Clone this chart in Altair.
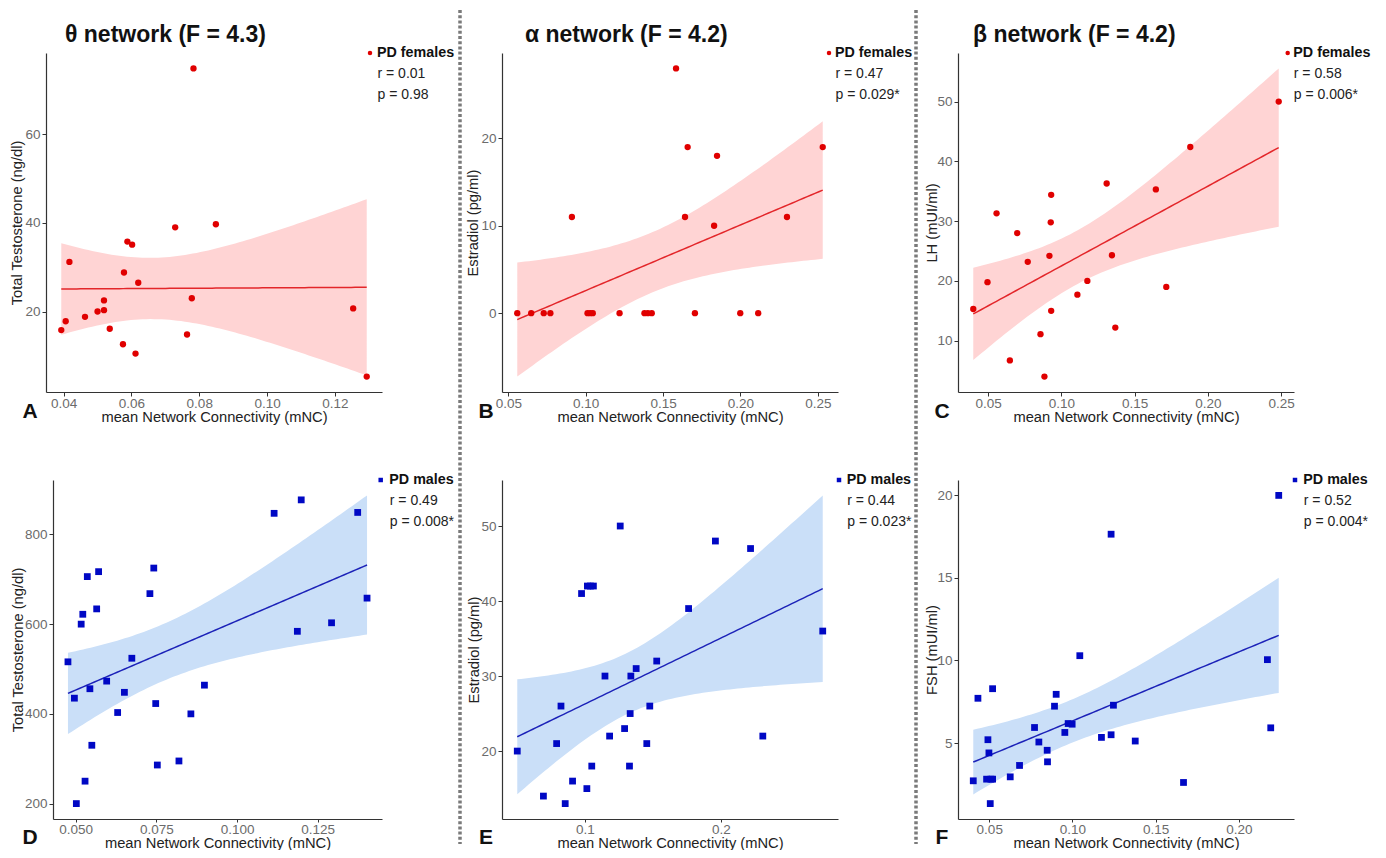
import numpy as np
import pandas as pd
import altair as alt

FONT = "Liberation Sans"

# ---------------- data ----------------
# A: theta network, PD females, Total Testosterone (ng/dl)
a_x = [0.0393, 0.0406, 0.0417, 0.0463, 0.0500, 0.0519, 0.0519, 0.0536, 0.0575, 0.0578,
       0.0588, 0.0602, 0.0612, 0.0620, 0.0729, 0.0764, 0.0778, 0.0783, 0.0849, 0.1254, 0.1294]
a_y = [15.8, 17.8, 31.2, 18.8, 20.0, 22.5, 20.3, 16.1, 12.6, 28.8,
       35.8, 35.1, 10.5, 26.5, 39.0, 14.8, 23.0, 74.9, 39.7, 20.7, 5.3]

# B: alpha network, PD females, Estradiol (pg/ml)
b_x = [0.0558, 0.0648, 0.0729, 0.0772, 0.0911, 0.1012, 0.1029, 0.1046, 0.1219, 0.1380, 0.1402,
       0.1427, 0.1584, 0.1642, 0.1659, 0.1706, 0.1830, 0.1849, 0.1999, 0.2115, 0.2301, 0.2532]
b_y = [0, 0, 0, 0, 11, 0, 0, 0, 0, 0, 0,
       0, 28, 11, 19, 0, 10, 18, 0, 0, 11, 19]

# C: beta network, PD females, LH (mUI/ml)
c_x = [0.0398, 0.0495, 0.0557, 0.0648, 0.0698, 0.0770, 0.0857, 0.0884, 0.0918, 0.0927, 0.0930,
       0.0930, 0.1109, 0.1177, 0.1309, 0.1345, 0.1368, 0.1645, 0.1716, 0.1880, 0.2484]
c_y = [15.3, 19.8, 31.3, 6.7, 28.0, 23.2, 11.1, 4.0, 24.2, 29.8, 34.4,
       15.0, 17.7, 20.0, 36.3, 24.3, 12.2, 35.3, 19.0, 42.4, 50.0]

# D: theta network, PD males, Total Testosterone (ng/dl)
d_x = [0.0476, 0.0496, 0.0502, 0.0517, 0.0522, 0.0529, 0.0536, 0.0544, 0.0550, 0.0565,
       0.0571, 0.0596, 0.0630, 0.0651, 0.0674, 0.0730, 0.0742, 0.0748, 0.0753, 0.0820,
       0.0857, 0.0899, 0.1115, 0.1187, 0.1199, 0.1293, 0.1374, 0.1403]
d_y = [516, 435, 200, 600, 622, 250, 706, 456, 330, 634,
       717, 473, 403, 448, 524, 668, 725, 423, 286, 295,
       400, 464, 847, 584, 877, 603, 849, 658]

# E: alpha network, PD males, Estradiol (pg/ml)
e_x = [0.0504, 0.0696, 0.0793, 0.0825, 0.0856, 0.0910, 0.0976, 0.1015, 0.1019, 0.1041,
       0.1063, 0.1051, 0.1148, 0.1182, 0.1260, 0.1292, 0.1333, 0.1328, 0.1338, 0.1377,
       0.1455, 0.1477, 0.1528, 0.1762, 0.1959, 0.2217, 0.2307, 0.2747]
e_y = [20, 14, 21, 26, 13, 16, 41, 15, 42, 42,
       42, 18, 30, 22, 50, 23, 25, 18, 30, 31,
       21, 26, 32, 39, 48, 47, 22, 36]

# F: beta network, PD males, FSH (mUI/ml)
f_x = [0.0404, 0.0432, 0.0484, 0.0492, 0.0498, 0.0506, 0.0510, 0.0520, 0.0520, 0.0626,
       0.0682, 0.0772, 0.0798, 0.0848, 0.0850, 0.0892, 0.0902, 0.0954, 0.0974, 0.0998,
       0.1044, 0.1174, 0.1232, 0.1232, 0.1246, 0.1377, 0.1667, 0.2171, 0.2191, 0.2239]
f_y = [2.71, 7.71, 2.81, 5.20, 4.40, 1.33, 2.81, 8.29, 2.81, 2.95,
       3.64, 5.94, 5.06, 4.56, 3.86, 7.23, 7.95, 5.64, 6.18, 6.14,
       10.29, 5.34, 5.50, 17.65, 7.29, 5.12, 2.61, 10.05, 5.92, 20.0]

titles = ["θ network (F = 4.3)", "α network (F = 4.2)", "β network (F = 4.2)"]
letters = ["A", "B", "C", "D", "E", "F"]
y_titles = ["Total Testosterone (ng/dl)", "Estradiol (pg/ml)", "LH (mUI/ml)",
            "Total Testosterone (ng/dl)", "Estradiol (pg/ml)", "FSH (mUI/ml)"]
groups = ["PD females"] * 3 + ["PD males"] * 3
r_text = ["r = 0.01", "r = 0.47", "r = 0.58", "r = 0.49", "r = 0.44", "r = 0.52"]
p_text = ["p = 0.98", "p = 0.029*", "p = 0.006*", "p = 0.008*", "p = 0.023*", "p = 0.004*"]
x_ticks = [[0.04, 0.06, 0.08, 0.10, 0.12], [0.05, 0.10, 0.15, 0.20, 0.25],
           [0.05, 0.10, 0.15, 0.20, 0.25], [0.050, 0.075, 0.100, 0.125],
           [0.1, 0.2], [0.05, 0.10, 0.15, 0.20]]
x_formats = [".2f", ".2f", ".2f", ".3f", ".1f", ".2f"]
y_ticks = [[20, 40, 60], [0, 10, 20], [10, 20, 30, 40, 50],
           [200, 400, 600, 800], [20, 30, 40, 50], [5, 10, 15, 20]]
xs_all = [a_x, b_x, c_x, d_x, e_x, f_x]
ys_all = [a_y, b_y, c_y, d_y, e_y, f_y]

# ---------------- layout / style ----------------
W, H = 336, 339
RED, RED_BAND, RED_LINE = "#E00000", "#FFD4D4", "#E3262A"
BLUE, BLUE_BAND, BLUE_LINE = "#0008C4", "#CADFF8", "#1C22B8"
title_dx = [19, 23, 15]
ytitle_x = [-29, -29, -26, -35, -28, -26]
left_inset = [0, 0, 0, 7, 0, 0]          # panel D's plot starts a little to the right
marker_dx = [-12, -9, -6.3, -1.3, 1, 1]
label_dx = [-5, -3, -0.7, 7.3, 8.7, 9.3]


def t975(df):
    z = 1.959963985
    return (z + (z ** 3 + z) / (4 * df)
            + (5 * z ** 5 + 16 * z ** 3 + 3 * z) / (96 * df ** 2)
            + (3 * z ** 7 + 19 * z ** 5 + 17 * z ** 3 - 15 * z) / (384 * df ** 3))


def smooth(xs, ys, n=80):
    x = np.asarray(xs, float)
    y = np.asarray(ys, float)
    k = len(x)
    xm, ym = x.mean(), y.mean()
    sxx = ((x - xm) ** 2).sum()
    b = ((x - xm) * (y - ym)).sum() / sxx
    a = ym - b * xm
    s = np.sqrt(((y - (a + b * x)) ** 2).sum() / (k - 2))
    g = np.linspace(x.min(), x.max(), n)
    fit = a + b * g
    se = s * np.sqrt(1.0 / k + (g - xm) ** 2 / sxx)
    t = t975(k - 2)
    return pd.DataFrame({"x": g, "fit": fit, "lo": fit - t * se, "hi": fit + t * se})


def txt(s, px, py, **kw):
    return alt.Chart(pd.DataFrame({"t": [s]})).mark_text(font=FONT, **kw).encode(
        text="t:N", x=alt.value(px), y=alt.value(py))


def panel(i):
    female = i < 3
    bottom = i >= 3
    xs, ys = xs_all[i], ys_all[i]
    pts = pd.DataFrame({"x": xs, "y": ys})
    sm = smooth(xs, ys)
    x0, x1 = min(xs), max(xs)
    xp = 0.05 * (x1 - x0)
    y0 = min(min(ys), sm["lo"].min())
    y1 = max(max(ys), sm["hi"].max())
    yp = 0.05 * (y1 - y0)
    inset = left_inset[i]
    if inset:
        xscale = alt.Scale(domain=[x0 - xp, x1 + xp], nice=False, zero=False,
                           range=[inset, W])
    else:
        xscale = alt.Scale(domain=[x0 - xp, x1 + xp], nice=False, zero=False)
    yscale = alt.Scale(domain=[y0 - yp, y1 + yp], nice=False, zero=False)

    xaxis = alt.Axis(values=x_ticks[i], format=x_formats[i],
                     title="mean Network Connectivity (mNC)",
                     titleY=24 if bottom else 25, titleBaseline="middle",
                     tickSize=3 if bottom else 4, labelPadding=0)
    yargs = dict(values=y_ticks[i], format="d", title=y_titles[i],
                 titleX=ytitle_x[i], titleY=H / 2, titleAngle=270,
                 titleBaseline="middle", titleAlign="center",
                 tickSize=4, labelPadding=2)
    if inset:
        yargs["offset"] = -inset
    yaxis = alt.Axis(**yargs)

    band_c = RED_BAND if female else BLUE_BAND
    line_c = RED_LINE if female else BLUE_LINE
    pt_c = RED if female else BLUE
    shape = "circle" if female else "square"

    band = alt.Chart(sm).mark_area(color=band_c, opacity=1).encode(
        x=alt.X("x:Q", scale=xscale, axis=xaxis),
        y=alt.Y("lo:Q", scale=yscale, axis=yaxis),
        y2="hi:Q")
    line = alt.Chart(sm).mark_line(color=line_c, strokeWidth=1.5).encode(
        x="x:Q", y="fit:Q")
    points = alt.Chart(pts).mark_point(shape=shape, filled=True, opacity=1,
                                       size=40 if female else 46, color=pt_c).encode(
        x="x:Q", y="y:Q")

    marker = alt.Chart(pd.DataFrame({"g": [groups[i]]})).mark_point(
        shape=shape, filled=True, opacity=1, size=20, color=pt_c).encode(
        x=alt.value(W + marker_dx[i]), y=alt.value(0))
    lx = W + label_dx[i]
    leg1 = txt(groups[i], lx, 0, fontSize=14.3, fontWeight="bold", align="left",
               baseline="middle", color="#111111")
    leg2 = txt(r_text[i], lx + 0.5, 21, fontSize=14, align="left",
               baseline="middle", color="#222222")
    leg3 = txt(p_text[i], lx + 0.5, 41.5 if bottom else 42, fontSize=14, align="left",
               baseline="middle", color="#222222")
    letter = txt(letters[i], -16, H + (25 if bottom else 26), fontSize=21,
                 fontWeight="bold", align="center", baseline="alphabetic",
                 color="#111111")

    layers = [band, line, points, marker, leg1, leg2, leg3, letter]

    if not bottom:
        layers.append(txt(titles[i], title_dx[i], -18, fontSize=23, fontWeight="bold",
                          align="left", baseline="middle", color="#111111"))
    if i in (1, 2):
        sep = alt.Chart(pd.DataFrame({"k": [0]})).mark_rule(
            color="#7a7a7a", strokeWidth=3.5, strokeDash=[3, 2.2], strokeCap="butt").encode(
            x=alt.value(-42), y=alt.value(-43), y2=alt.value(791))
        layers.append(sep)
    if i == 0:
        anchor = alt.Chart(pd.DataFrame({"k": [0]})).mark_rule(
            color="white", strokeWidth=1).encode(
            x=alt.value(-37.5), y=alt.value(0), y2=alt.value(2))
        layers.append(anchor)

    return alt.layer(*layers).properties(width=W, height=H)


chart = alt.ConcatChart(
    concat=[panel(i) for i in range(6)],
    columns=3,
    spacing={"row": 88, "column": 120},
    bounds="flush",
).properties(
    padding={"left": 0, "top": 0, "right": 0, "bottom": 0},
    background="white",
).configure_view(
    stroke=None
).configure_axis(
    grid=False,
    domainColor="#333333",
    domainWidth=1.2,
    tickColor="#333333",
    tickWidth=1,
    labelColor="#6b6b6b",
    labelFont=FONT,
    labelFontSize=13.5,
    titleFont=FONT,
    titleFontSize=14.7,
    titleFontWeight="normal",
    titleColor="#222222",
)

chart.save("out.html", embed_options={"renderer": "svg", "actions": False})
